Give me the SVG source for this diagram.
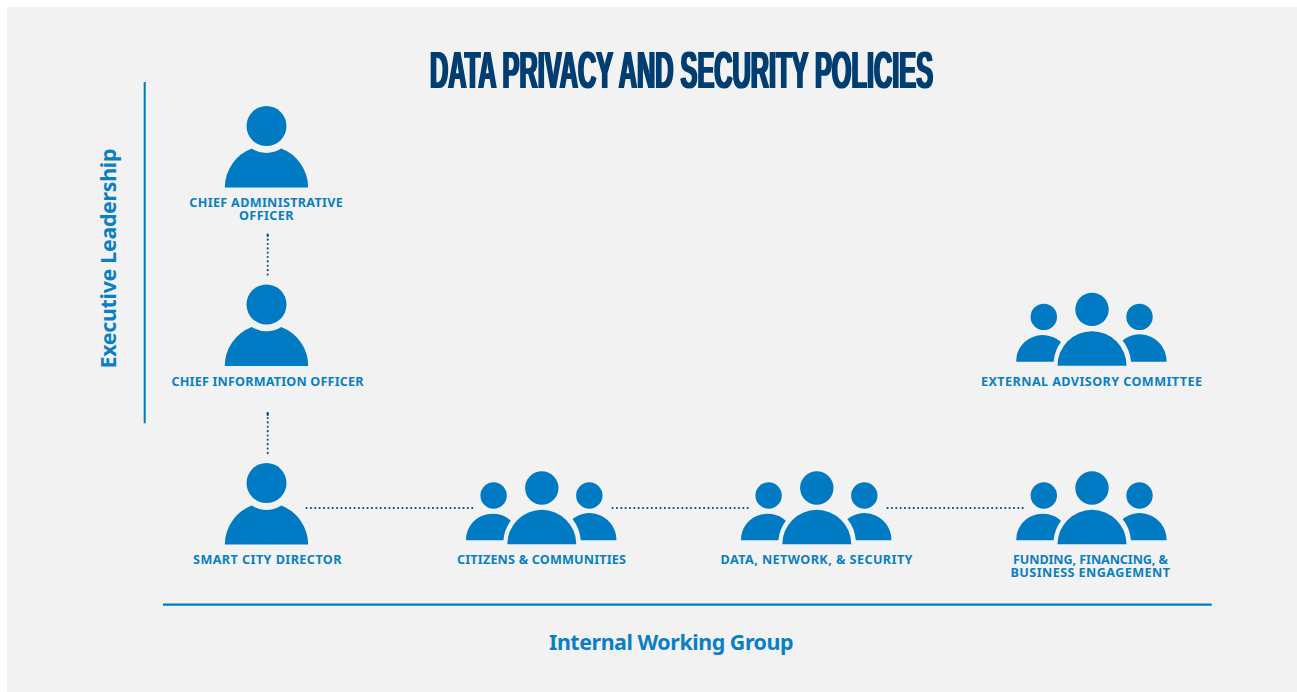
<svg xmlns="http://www.w3.org/2000/svg" width="1297" height="692" viewBox="0 0 1297 692">
<style>
.i{fill:#007ac3}
.l{font-family:"Noto Sans","Open Sans","Liberation Sans",sans-serif;font-weight:700;font-size:12.6px;fill:#0a7fc4}
.h{font-family:"Noto Sans","Open Sans","Liberation Sans",sans-serif;font-weight:700;font-size:21.4px;fill:#0a7fc4}
.t{font-family:"Liberation Sans",sans-serif;font-weight:700;font-size:52.6px;fill:#003c71}
.d{fill:none;stroke:#004a7c;stroke-width:2;stroke-linecap:round;stroke-dasharray:.1 4.26}
.s{fill:none;stroke:#004a7c;stroke-width:2;stroke-linecap:round}
.r{fill:none;stroke:#007ac3}
</style>
<defs>
<filter id="widen" x="-2%" y="-10%" width="104%" height="120%" primitiveUnits="userSpaceOnUse"><feMorphology operator="dilate" radius="1 0"/></filter>
<g id="person" class="i">
<circle cx="0" cy="-61.5" r="20"/>
<path d="M-41.7 0A41.7 41.7 0 0 1-14.7-39A26.9 26.9 0 0 0 14.7-39A41.7 41.7 0 0 1 41.7 0Z"/>
</g>
<g id="team" class="i">
<circle cx="0" cy="-56.3" r="16.7"/>
<path d="M-34.5 0A34.5 34.5 0 0 1 34.5 0Z"/>
<circle cx="-48.2" cy="-48.8" r="13.2"/>
<path d="M-75.7-4A26.5 25.5 0 0 1-31-23.6A38.7 38.7 0 0 0-38.4-4Z"/>
<circle cx="47.5" cy="-48.8" r="13.2"/>
<path d="M39-4A38.7 38.7 0 0 0 30.6-25.3A27 27 0 0 1 74.6-4Z"/>
</g>
</defs>
<rect width="1297" height="692" fill="#ffffff"/>
<rect x="7" y="7" width="1290" height="685" fill="#f2f2f2"/>
<g filter="url(#widen)"><text class="t" transform="translate(430 88) scale(.4615 1)" textLength="1090" lengthAdjust="spacingAndGlyphs">DATA PRIVACY AND SECURITY POLICIES</text></g>
<g id="connectors">
<path class="d" d="M267.7 235.2V274.6"/>
<path class="s" d="M267.7 234.4V236"/>
<path class="d" d="M267.7 413.6V453"/>
<path class="s" d="M267.7 413V415"/>
<path class="d" d="M306.5 507.9H472.3"/>
<path class="d" d="M612.5 507.9H747.9"/>
<path class="d" d="M887.5 507.9H1022.9"/>
<path class="r" stroke-width="2" d="M144.7 82V423.3"/>
<path class="r" stroke-width="2.4" d="M163 604.6H1211.7"/>
</g>
<g id="chief-administrative-officer">
<use href="#person" x="266.5" y="187.6"/>
<text class="l" x="189.3" y="207" textLength="153.6">CHIEF ADMINISTRATIVE</text>
<text class="l" x="239" y="220" textLength="54.4">OFFICER</text>
</g>
<g id="chief-information-officer">
<use href="#person" x="266.5" y="366"/>
<text class="l" x="171.5" y="386" textLength="192">CHIEF INFORMATION OFFICER</text>
</g>
<g id="smart-city-director">
<use href="#person" x="266.5" y="544.6"/>
<text class="l" x="193" y="564.2" textLength="148.5">SMART CITY DIRECTOR</text>
</g>
<g id="external-advisory-committee">
<use href="#team" x="1092" y="365.7"/>
<text class="l" x="981" y="386" textLength="221">EXTERNAL ADVISORY COMMITTEE</text>
</g>
<g id="citizens-communities">
<use href="#team" x="541.8" y="544.3"/>
<text class="l" x="457" y="564.2" textLength="169">CITIZENS &amp; COMMUNITIES</text>
</g>
<g id="data-network-security">
<use href="#team" x="816.8" y="544.3"/>
<text class="l" x="720.5" y="564.2" textLength="192">DATA, NETWORK, &amp; SECURITY</text>
</g>
<g id="funding-financing">
<use href="#team" x="1092" y="544.3"/>
<text class="l" x="1013" y="564.2" textLength="155">FUNDING, FINANCING, &amp;</text>
<text class="l" x="1010.5" y="577" textLength="159.5">BUSINESS ENGAGEMENT</text>
</g>
<text class="h" x="549" y="650" textLength="244.5">Internal Working Group</text>
<text class="h" transform="translate(116 368.5) rotate(-90)" textLength="220">Executive Leadership</text>
</svg>
